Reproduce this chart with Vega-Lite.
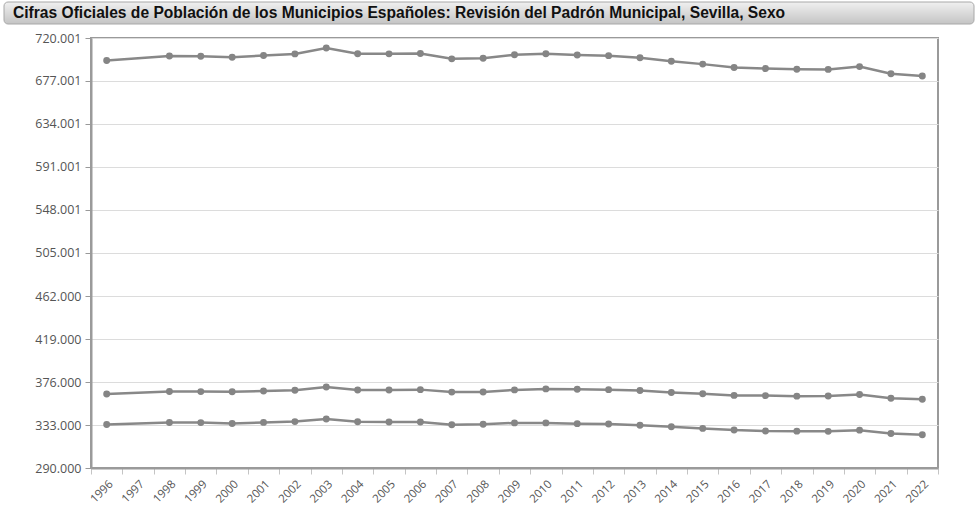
{
  "$schema": "https://vega.github.io/schema/vega-lite/v6.json",
  "padding": {"left": 3, "top": 1, "right": 0, "bottom": 0},
  "spacing": 6,
  "config": {
    "locale": {"number": {"decimal": ",", "thousands": ".", "grouping": [3], "currency": ["", " €"]}},
    "view": {"stroke": null},
    "font": "Open Sans"
  },
  "vconcat": [
    {
      "width": 847,
      "height": 22,
      "data": {"values": [{"titulo": "Cifras Oficiales de Población de los Municipios Españoles: Revisión del Padrón Municipal, Sevilla, Sexo"}]},
      "layer": [
        {
          "mark": {
            "type": "rect",
            "cornerRadius": 4,
            "stroke": "#a8a8a8",
            "strokeWidth": 1,
            "fill": {
              "gradient": "linear", "x1": 0, "y1": 0, "x2": 0, "y2": 1,
              "stops": [{"offset": 0, "color": "#f0f0f0"}, {"offset": 1, "color": "#c4c4c4"}]
            }
          },
          "encoding": {"x": {"value": -87}, "x2": {"value": 883}}
        },
        {
          "mark": {"type": "text", "align": "left", "baseline": "middle", "font": "Liberation Sans", "fontWeight": "bold", "fontSize": 15.6, "color": "#111"},
          "encoding": {"text": {"field": "titulo"}, "x": {"value": -78}, "y": {"value": 11}}
        }
      ]
    },
    {
      "width": 847,
      "height": 430,
      "view": {"stroke": "#9a9a9a", "strokeWidth": 2},
      "data": {"values": [
        {"anio": "1996", "serie": "Total", "valor": 697487},
        {"anio": "1998", "serie": "Total", "valor": 701927},
        {"anio": "1999", "serie": "Total", "valor": 701780},
        {"anio": "2000", "serie": "Total", "valor": 700716},
        {"anio": "2001", "serie": "Total", "valor": 702520},
        {"anio": "2002", "serie": "Total", "valor": 704114},
        {"anio": "2003", "serie": "Total", "valor": 709975},
        {"anio": "2004", "serie": "Total", "valor": 704203},
        {"anio": "2005", "serie": "Total", "valor": 704154},
        {"anio": "2006", "serie": "Total", "valor": 704414},
        {"anio": "2007", "serie": "Total", "valor": 699145},
        {"anio": "2008", "serie": "Total", "valor": 699759},
        {"anio": "2009", "serie": "Total", "valor": 703206},
        {"anio": "2010", "serie": "Total", "valor": 704198},
        {"anio": "2011", "serie": "Total", "valor": 703021},
        {"anio": "2012", "serie": "Total", "valor": 702355},
        {"anio": "2013", "serie": "Total", "valor": 700169},
        {"anio": "2014", "serie": "Total", "valor": 696676},
        {"anio": "2015", "serie": "Total", "valor": 693878},
        {"anio": "2016", "serie": "Total", "valor": 690566},
        {"anio": "2017", "serie": "Total", "valor": 689434},
        {"anio": "2018", "serie": "Total", "valor": 688711},
        {"anio": "2019", "serie": "Total", "valor": 688592},
        {"anio": "2020", "serie": "Total", "valor": 691395},
        {"anio": "2021", "serie": "Total", "valor": 684234},
        {"anio": "2022", "serie": "Total", "valor": 681998},
        {"anio": "1996", "serie": "Mujeres", "valor": 364077},
        {"anio": "1998", "serie": "Mujeres", "valor": 366464},
        {"anio": "1999", "serie": "Mujeres", "valor": 366390},
        {"anio": "2000", "serie": "Mujeres", "valor": 366192},
        {"anio": "2001", "serie": "Mujeres", "valor": 366927},
        {"anio": "2002", "serie": "Mujeres", "valor": 367724},
        {"anio": "2003", "serie": "Mujeres", "valor": 370988},
        {"anio": "2004", "serie": "Mujeres", "valor": 367935},
        {"anio": "2005", "serie": "Mujeres", "valor": 368077},
        {"anio": "2006", "serie": "Mujeres", "valor": 368374},
        {"anio": "2007", "serie": "Mujeres", "valor": 365906},
        {"anio": "2008", "serie": "Mujeres", "valor": 366046},
        {"anio": "2009", "serie": "Mujeres", "valor": 368103},
        {"anio": "2010", "serie": "Mujeres", "valor": 369099},
        {"anio": "2011", "serie": "Mujeres", "valor": 368677},
        {"anio": "2012", "serie": "Mujeres", "valor": 368344},
        {"anio": "2013", "serie": "Mujeres", "valor": 367418},
        {"anio": "2014", "serie": "Mujeres", "valor": 365505},
        {"anio": "2015", "serie": "Mujeres", "valor": 364272},
        {"anio": "2016", "serie": "Mujeres", "valor": 362616},
        {"anio": "2017", "serie": "Mujeres", "valor": 362384},
        {"anio": "2018", "serie": "Mujeres", "valor": 361856},
        {"anio": "2019", "serie": "Mujeres", "valor": 361963},
        {"anio": "2020", "serie": "Mujeres", "valor": 363531},
        {"anio": "2021", "serie": "Mujeres", "valor": 359784},
        {"anio": "2022", "serie": "Mujeres", "valor": 358666},
        {"anio": "1996", "serie": "Hombres", "valor": 333410},
        {"anio": "1998", "serie": "Hombres", "valor": 335463},
        {"anio": "1999", "serie": "Hombres", "valor": 335390},
        {"anio": "2000", "serie": "Hombres", "valor": 334524},
        {"anio": "2001", "serie": "Hombres", "valor": 335593},
        {"anio": "2002", "serie": "Hombres", "valor": 336390},
        {"anio": "2003", "serie": "Hombres", "valor": 338987},
        {"anio": "2004", "serie": "Hombres", "valor": 336268},
        {"anio": "2005", "serie": "Hombres", "valor": 336077},
        {"anio": "2006", "serie": "Hombres", "valor": 336040},
        {"anio": "2007", "serie": "Hombres", "valor": 333239},
        {"anio": "2008", "serie": "Hombres", "valor": 333713},
        {"anio": "2009", "serie": "Hombres", "valor": 335103},
        {"anio": "2010", "serie": "Hombres", "valor": 335099},
        {"anio": "2011", "serie": "Hombres", "valor": 334344},
        {"anio": "2012", "serie": "Hombres", "valor": 334011},
        {"anio": "2013", "serie": "Hombres", "valor": 332751},
        {"anio": "2014", "serie": "Hombres", "valor": 331171},
        {"anio": "2015", "serie": "Hombres", "valor": 329606},
        {"anio": "2016", "serie": "Hombres", "valor": 327950},
        {"anio": "2017", "serie": "Hombres", "valor": 327050},
        {"anio": "2018", "serie": "Hombres", "valor": 326856},
        {"anio": "2019", "serie": "Hombres", "valor": 326630},
        {"anio": "2020", "serie": "Hombres", "valor": 327864},
        {"anio": "2021", "serie": "Hombres", "valor": 324450},
        {"anio": "2022", "serie": "Hombres", "valor": 323332}
      ]},
      "encoding": {
        "x": {
          "field": "anio", "type": "ordinal", "title": null,
          "scale": {"type": "band", "paddingInner": 0, "paddingOuter": 0,
            "domain": ["1996","1997","1998","1999","2000","2001","2002","2003","2004","2005","2006","2007","2008","2009","2010","2011","2012","2013","2014","2015","2016","2017","2018","2019","2020","2021","2022"]},
          "axis": {
            "tickBand": "extent", "labelAngle": -45, "labelAlign": "right", "labelBaseline": "top",
            "labelFontSize": 11.5, "labelColor": "#555", "labelFont": "Open Sans",
            "domainColor": "#9a9a9a", "domainWidth": 2, "tickColor": "#c4c4c4", "tickSize": 6,
            "labelPadding": 4, "grid": false, "labelOverlap": false
          }
        },
        "y": {
          "field": "valor", "type": "quantitative", "title": null,
          "scale": {"domain": [290000, 720001], "nice": false, "zero": false},
          "axis": {
            "values": [290000, 333000, 376000, 419000, 462000, 505001, 548001, 591001, 634001, 677001, 720001],
            "format": ",d", "labelFontSize": 12.5, "labelColor": "#555", "labelFont": "Open Sans",
            "domainColor": "#9a9a9a", "domainWidth": 2, "tickColor": "#999", "tickSize": 6,
            "labelPadding": 4, "grid": true, "gridColor": "#dcdcdc", "gridWidth": 1,
            "minExtent": 86
          }
        },
        "detail": {"field": "serie"}
      },
      "layer": [
        {"mark": {"type": "line", "color": "#888888", "strokeWidth": 2.5}},
        {"mark": {"type": "point", "filled": true, "color": "#858585", "size": 48, "opacity": 1}}
      ]
    }
  ]
}
